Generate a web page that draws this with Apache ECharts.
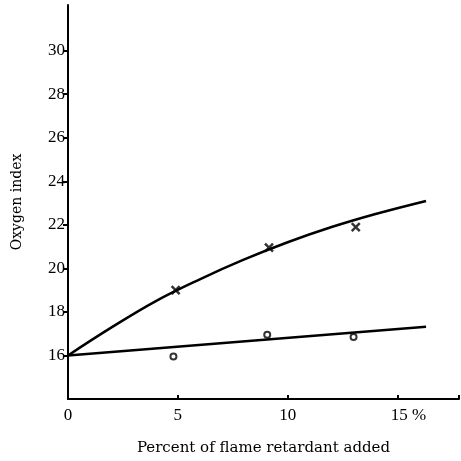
<!DOCTYPE html>
<html>
<head>
<meta charset="utf-8">
<script src="https://cdn.jsdelivr.net/npm/echarts@6/dist/echarts.min.js"></script>
<style>
  html, body { margin: 0; padding: 0; background: #fff; }
  #chart { width: 461px; height: 461px; }
</style>
</head>
<body>
<div id="chart"></div>
<script>
// fitted curves
var curveX = [0, 2, 4, 6, 8, 10, 12, 14, 16.3];
var curveHigh = [16, 17.3, 18.5, 19.5, 20.4, 21.2, 21.9, 22.5, 23.1];
var lineLowX = [0, 16.3];
var lineLow = [16, 17.32];
// measured points
var crossX = [4.9, 9.15, 13.1];
var crossY = [19.0, 20.95, 21.9];
var circleX = [4.8, 9.07, 13.0];
var circleY = [15.95, 16.95, 16.85];
// tick labels
var xTicks = [0, 5, 10, 15];
var yTicks = [16, 18, 20, 22, 24, 26, 28, 30];

var pairs = function (xs, ys) {
  return xs.map(function (x, i) { return [x, ys[i]]; });
};

var crossPath = 'path://M0,0 L10,10 M10,0 L0,10';

var myChart = echarts.init(document.getElementById('chart'));
var option = {
  backgroundColor: '#fff',
  animation: false,
  grid: { left: 68, right: 2, top: 5, bottom: 57 },
  xAxis: {
    type: 'value',
    min: 0,
    max: 17.8,
    interval: 5,
    name: 'Percent of flame retardant added',
    nameLocation: 'middle',
    nameGap: 42,
    nameTextStyle: { fontFamily: 'DejaVu Serif', fontSize: 15, color: '#000' },
    splitLine: { show: false },
    axisLine: { lineStyle: { color: '#000', width: 2 } },
    axisTick: { show: true, inside: true, length: 4, lineStyle: { color: '#000', width: 2 } },
    axisLabel: {
      margin: 8,
      customValues: xTicks,
      fontFamily: 'Liberation Serif',
      fontSize: 17,
      color: '#000',
      formatter: function (v) {
        if (v === 15) return '{w|}15 %';
        return String(v);
      },
      rich: { w: { width: 22 } }
    }
  },
  yAxis: {
    type: 'value',
    min: 14,
    max: 32.1,
    interval: 2,
    name: 'Oxygen index',
    nameLocation: 'middle',
    nameGap: 44,
    nameTextStyle: { fontFamily: 'DejaVu Serif', fontSize: 14, color: '#000' },
    splitLine: { show: false },
    axisLine: { lineStyle: { color: '#000', width: 2 } },
    axisTick: { length: 5, customValues: yTicks, lineStyle: { color: '#000', width: 2 } },
    axisLabel: {
      margin: 3,
      customValues: yTicks,
      fontFamily: 'Liberation Serif',
      fontSize: 17,
      color: '#000'
    }
  },
  series: [
    {
      type: 'line',
      data: pairs(curveX, curveHigh),
      smooth: 0.4,
      showSymbol: false,
      lineStyle: { color: '#000', width: 2.5 }
    },
    {
      type: 'line',
      data: pairs(lineLowX, lineLow),
      showSymbol: false,
      lineStyle: { color: '#000', width: 2.5 }
    },
    {
      type: 'scatter',
      data: pairs(crossX, crossY),
      symbol: crossPath,
      symbolSize: 8,
      itemStyle: { color: 'none', borderColor: '#000', borderWidth: 2.5 }
    },
    {
      type: 'scatter',
      data: pairs(circleX, circleY),
      symbol: 'circle',
      symbolSize: 6,
      itemStyle: { color: '#fff', borderColor: '#000', borderWidth: 2 }
    }
  ]
};
myChart.setOption(option);
</script>
</body>
</html>
